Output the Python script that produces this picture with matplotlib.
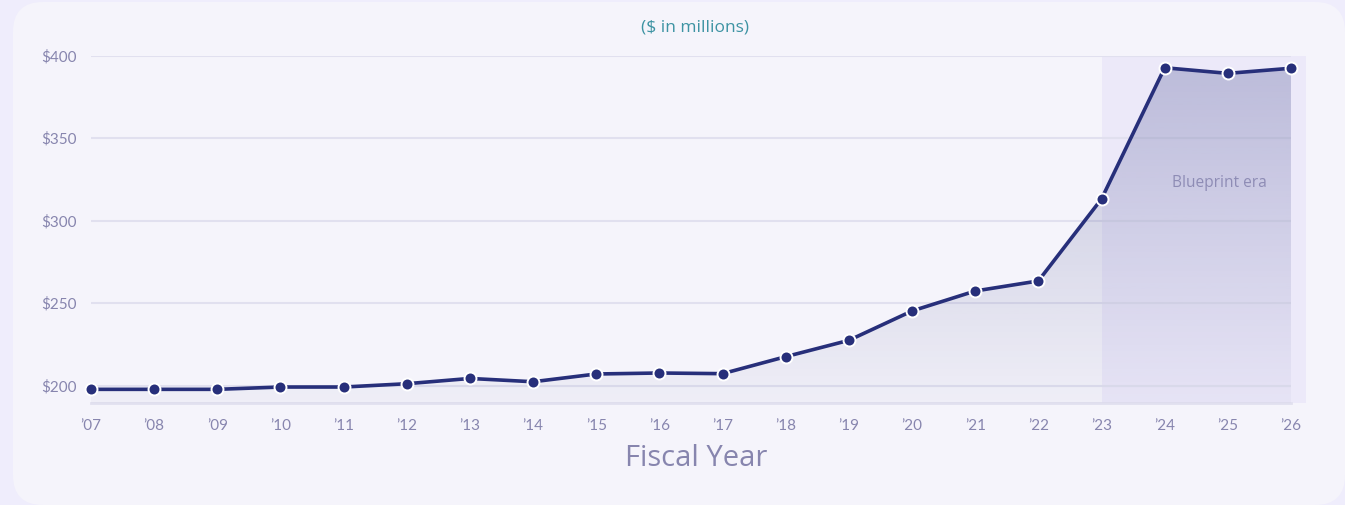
import matplotlib.pyplot as plt
import numpy as np
from matplotlib.patches import FancyBboxPatch, Rectangle

# Annual budget, $ in millions
years = list(range(2007, 2027))
budget = [197.8, 197.8, 197.8, 199.2, 199.2, 201.2, 204.4, 202.4, 207.1, 207.7,
          207.3, 217.6, 227.5, 245.3, 257.4, 263.5, 313.2, 392.7, 389.3, 392.4]
year_labels = ["\u2019%02d" % (y % 100) for y in years]
y_ticks = [200, 250, 300, 350, 400]
y_labels = ["$%d" % v for v in y_ticks]
era_start = 2023
era_label = "Blueprint era"

W, H = 1345, 505
page_bg = "#efedfc"
card_bg = "#f5f4fb"
navy = "#272f7a"
muted = "#8785ae"
grid_col = "#e1e0ef"

fig = plt.figure(figsize=(W / 100, H / 100), dpi=100, facecolor=page_bg)

# rounded card behind the chart, drawn in pixel coordinates
bg = fig.add_axes([0, 0, 1, 1], zorder=-10)
bg.set_xlim(0, W)
bg.set_ylim(H, 0)
bg.axis("off")
bg.add_patch(FancyBboxPatch((13, 2), W - 13, H - 2,
                            boxstyle="round,pad=0,rounding_size=30",
                            fc=card_bg, ec="none"))

ax = fig.add_axes([91 / W, 1 - 402.7 / H, 1200 / W, 347 / H])
ax.patch.set_alpha(0)
ymin, ymax = 189.7, 400
ax.set_xlim(years[0], years[-1])
ax.set_ylim(ymin, ymax)

# shaded era band, runs a little past the last year
ax.add_patch(Rectangle((era_start, ymin), years[-1] + 0.24 - era_start, ymax - ymin,
                       fc="#ece9f9", ec="none", zorder=0, clip_on=False))

for v in y_ticks:
    ax.axhline(v, color=grid_col, lw=1.5, zorder=0.5)
ax.axhline(ymin, color=grid_col, lw=2, zorder=0.5, clip_on=False)

# gradient fill under the line
fill = ax.fill_between(years, budget, ymin, color="none", lw=0)
grad = np.zeros((256, 1, 4))
rgb = np.array([0x27, 0x2f, 0x7a]) / 255
grad[:, 0, :3] = rgb
grad[:, 0, 3] = np.linspace(0.25, 0.03, 256)
im = ax.imshow(grad, extent=[years[0], years[-1], ymin, ymax], origin="upper",
               aspect="auto", zorder=1)
im.set_clip_path(fill.get_paths()[0], transform=ax.transData)

ax.plot(years, budget, color=navy, lw=2.6, zorder=3, marker="o", ms=8.6,
        mfc=navy, mec="white", mew=1.4, clip_on=False)

ax.text(2024.86, 323, era_label, ha="center", va="center", fontsize=11.2,
        color="#8e8cb5", family="Open Sans", zorder=4)

for s in ax.spines.values():
    s.set_visible(False)
ax.set_xticks(years)
ax.set_xticklabels(year_labels)
ax.set_yticks(y_ticks)
ax.set_yticklabels(y_labels)
ax.tick_params(length=0, labelsize=11, labelcolor=muted)
ax.tick_params(axis="x", pad=11.5)
ax.tick_params(axis="y", pad=10)
for lab in ax.get_xticklabels() + ax.get_yticklabels():
    lab.set_family("Lato")

fig.text(695 / W, 1 - 28 / H, "($ in millions)", ha="center", va="center",
         fontsize=12.5, color="#3d93a3", family="Open Sans")
fig.text(696 / W, 1 - 458 / H, "Fiscal Year", ha="center", va="center",
         fontsize=21, color="#8785ae", family="Open Sans")

fig.savefig("out.png", dpi=100, facecolor=page_bg)
